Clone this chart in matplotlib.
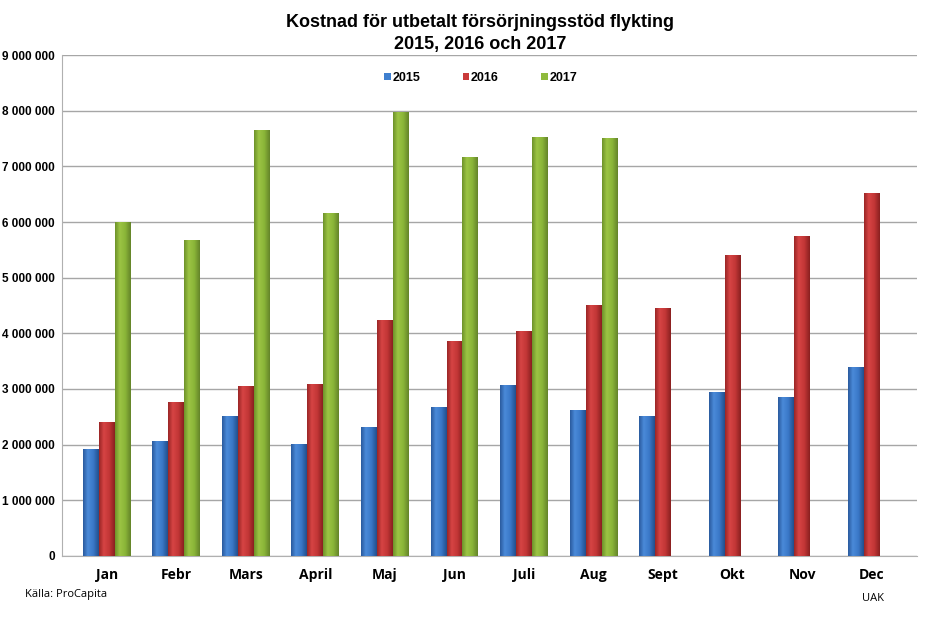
import numpy as np
import matplotlib.pyplot as plt
from matplotlib.ticker import FuncFormatter
from matplotlib.colors import LinearSegmentedColormap

# =========================
# Data
# =========================
months = ["Jan", "Febr", "Mars", "April", "Maj", "Jun", "Juli", "Aug",
          "Sept", "Okt", "Nov", "Dec"]
v2015 = [1920000, 2070000, 2510000, 2010000, 2320000, 2680000, 3070000,
         2620000, 2510000, 2950000, 2860000, 3400000]
v2016 = [2410000, 2770000, 3050000, 3090000, 4240000, 3860000, 4040000,
         4510000, 4450000, 5410000, 5750000, 6520000]
v2017 = [6000000, 5680000, 7650000, 6160000, 7980000, 7170000, 7530000,
         7510000]
years = ["2015", "2016", "2017"]
colors = ["#3f7fcf", "#c93a3a", "#8fba3c"]
shades = [["#2a5a9e", "#4a8ad8", "#3a78c8", "#234f8c"],
          ["#9a2626", "#d64444", "#c23636", "#8a2020"],
          ["#6e922a", "#9cc444", "#8ab538", "#64842a"]]

# =========================
# Plot
# =========================
fig = plt.figure(figsize=(9.5, 6.21), dpi=100)
ax = fig.add_axes([0.065, 0.105, 0.9, 0.806])

x = np.arange(len(months))
w = 0.23
series = [v2015, v2016, v2017]
grad = np.linspace(0, 1, 64).reshape(1, -1)
for i, vals in enumerate(series):
    xs = x[:len(vals)] + (i - 1) * w
    bars = ax.bar(xs, vals, width=w, color=colors[i], edgecolor="none",
                  label=years[i], zorder=3)
    # cylinder-ish shading, like the original 3D-bevel bars
    cmap = LinearSegmentedColormap.from_list(
        f"c{i}", list(zip([0, 0.3, 0.65, 1], shades[i])))
    for b in bars:
        x0, y0 = b.get_x(), b.get_y()
        im = ax.imshow(grad, cmap=cmap, aspect="auto", zorder=4,
                       extent=[x0, x0 + b.get_width(), y0, y0 + b.get_height()])
        im.set_clip_path(b)

ax.set_xlim(-0.65, len(months) - 0.35)
ax.set_ylim(0, 9000000)
ax.set_yticks(np.arange(0, 9000001, 1000000))
ax.yaxis.set_major_formatter(
    FuncFormatter(lambda v, p: f"{int(v):,}".replace(",", " ")))
ax.grid(axis="y", color="#a6a6a6", linewidth=1, zorder=0)
for s in ["top", "right"]:
    ax.spines[s].set_visible(False)
ax.spines["left"].set_color("#b0b0b0")
ax.spines["bottom"].set_color("#b0b0b0")
ax.tick_params(length=0)
ax.tick_params(axis="x", pad=9)
ax.tick_params(axis="y", pad=5)

ax.set_xticks(x)
ax.set_xticklabels(months, fontsize=10, fontweight="bold", family="Open Sans")
for t in ax.get_yticklabels():
    t.set_fontsize(8.5)
    t.set_fontweight("bold")
    t.set_family("Liberation Sans")

leg = ax.legend(loc="upper center", bbox_to_anchor=(0.49, 0.99), ncol=3,
                frameon=False, handlelength=0.5, handleheight=0.5,
                handletextpad=0.15, columnspacing=3.4,
                prop={"family": "Liberation Sans", "weight": "bold", "size": 9})

fig.text(0.505, 0.963, "Kostnad för utbetalt försörjningsstöd flykting",
         ha="center", va="center", fontsize=13, fontweight="bold",
         family="Liberation Sans")
fig.text(0.505, 0.929, "2015, 2016 och 2017", ha="center", va="center",
         fontsize=13, fontweight="bold", family="Liberation Sans")
fig.text(0.026, 0.039, "Källa: ProCapita", fontsize=8, family="Open Sans")
fig.text(0.907, 0.033, "UAK", fontsize=8, family="Open Sans")

plt.savefig("out.png", dpi=100)
plt.close()
